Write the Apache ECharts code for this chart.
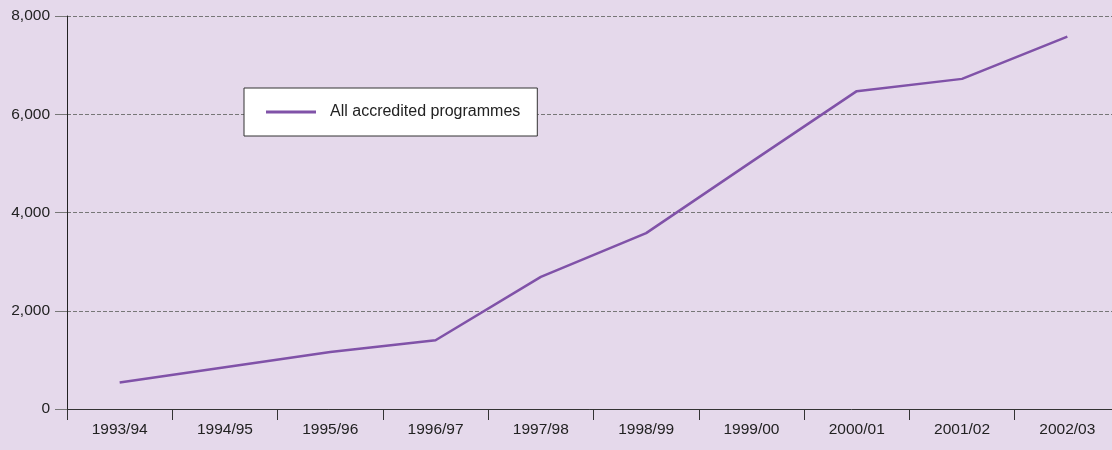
<!DOCTYPE html>
<html>
<head>
<meta charset="utf-8">
<script src="https://cdn.jsdelivr.net/npm/echarts@6/dist/echarts.min.js"></script>
<style>
html, body { margin: 0; padding: 0; background: #e5d9eb; }
#chart { width: 1112px; height: 450px; }
</style>
</head>
<body>
<div id="chart"></div>
<script>
// years on the x axis
var years = ['1993/94', '1994/95', '1995/96', '1996/97', '1997/98', '1998/99', '1999/00', '2000/01', '2001/02', '2002/03'];
// number of accredited programmes
var programmes = [540, 850, 1160, 1400, 2690, 3580, 5030, 6470, 6720, 7580];
var seriesName = 'All accredited programmes';

var myChart = echarts.init(document.getElementById('chart'));
var option = {
  backgroundColor: '#e5d9eb',
  animation: false,
  textStyle: { fontFamily: 'Liberation Sans, Arial, sans-serif' },
  // plot runs a little past the right edge, like the original
  grid: { left: 67, width: 1053, top: 16, bottom: 41, outerBoundsMode: 'none', containLabel: false },
  legend: {
    data: [seriesName],
    left: 244,
    top: 88,
    padding: [16, 17, 16, 22],
    itemWidth: 50,
    itemHeight: 3,
    backgroundColor: '#ffffff',
    borderColor: '#333333',
    borderWidth: 1,
    icon: 'rect',
    textStyle: { fontSize: 16, color: '#222', padding: [0, 0, 0, 9] }
  },
  xAxis: {
    type: 'category',
    data: years,
    boundaryGap: true,
    axisLine: { lineStyle: { color: '#333', width: 1 } },
    axisTick: { show: true, length: 11, lineStyle: { color: '#333' } },
    axisLabel: { color: '#222', fontSize: 15.5, margin: 13 },
    splitLine: { show: false }
  },
  yAxis: {
    type: 'value',
    min: 0,
    max: 8000,
    interval: 2000,
    axisLine: { show: true, lineStyle: { color: '#222', width: 1 } },
    axisTick: { show: true, length: 12, lineStyle: { color: '#777' } },
    axisLabel: {
      color: '#222',
      fontSize: 15.5,
      margin: 17,
      formatter: function (v) { return v.toLocaleString('en-US'); }
    },
    splitLine: { show: true, lineStyle: { color: '#777', type: 'dashed', width: 1 } }
  },
  series: [{
    name: seriesName,
    type: 'line',
    data: programmes,
    symbol: 'none',
    lineStyle: { color: '#8052a8', width: 2.5 },
    itemStyle: { color: '#8052a8' }
  }]
};
myChart.setOption(option);
</script>
</body>
</html>
